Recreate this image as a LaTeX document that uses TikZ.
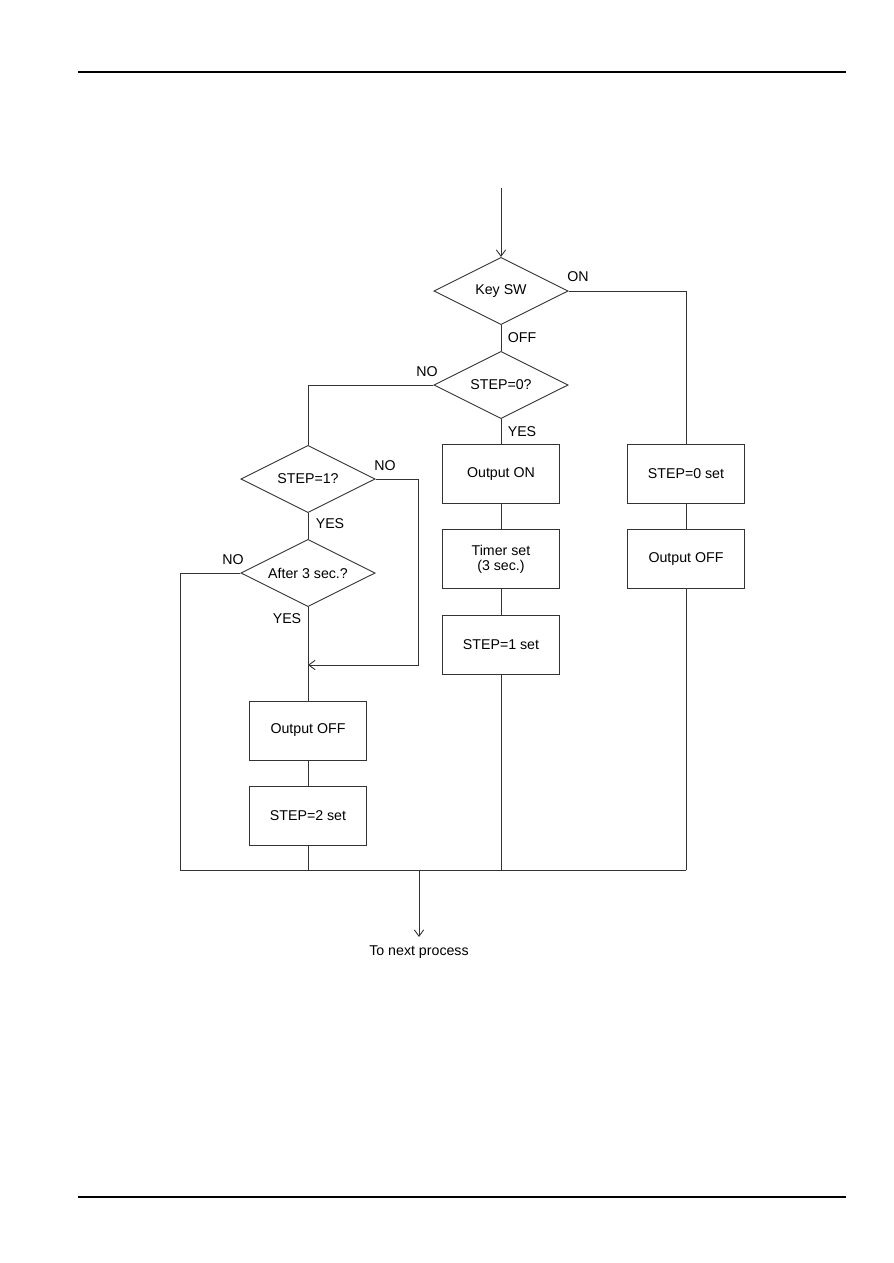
\documentclass[tikz,border=0pt]{standalone}
\usepackage{fontspec}
\setmainfont{Liberation Sans}
\usetikzlibrary{shapes.geometric,arrows.meta}

\tikzset{
  wire/.style={draw=black!80, line width=0.6pt},
  flowbox/.style={wire, rectangle, minimum width=27.5mm, minimum height=13.9mm, inner sep=0pt, align=center},
  decide/.style={wire, diamond, aspect=2, minimum width=31.6mm, minimum height=15.8mm, inner sep=0pt},
  branch/.style={inner sep=0pt},
}

\begin{document}
\begin{tikzpicture}[x=0.2352mm, y=-0.2352mm, >={Straight Barb[length=1.5mm,width=2.2mm]},
    font=\fontsize{9.5}{9.8}\selectfont]
  \useasboundingbox (0,0) rectangle (893,1263);
  % page rules
  \draw[line width=2pt] (78,72) -- (846,72);
  \draw[line width=1.4pt] (78,1197) -- (846,1197);

  % decisions
  \node[decide] (keysw) at (501,291) {Key SW};
  \node[decide] (step0) at (501,385) {STEP=0?};
  \node[decide] (step1) at (308,479) {STEP=1?};
  \node[decide] (after) at (308,573) {After 3 sec.?};

  % middle column
  \node[flowbox] (outon)    at (501,474) {Output ON};
  \node[flowbox] (timer)    at (501,559) {Timer set\\(3 sec.)};
  \node[flowbox] (step1set) at (501,645) {STEP=1 set};
  % right column
  \node[flowbox] (step0set) at (686,474) {STEP=0 set};
  \node[flowbox] (outoffr)  at (686,559) {Output OFF};
  % left column
  \node[flowbox] (outoffl)  at (308,730.5) {Output OFF};
  \node[flowbox] (step2set) at (308,815.5) {STEP=2 set};

  % free ends
  \coordinate (start)  at (501,188);
  \coordinate (loopc)  at (418,665);
  \coordinate (joinl)  at (308,665);
  \coordinate (leftc)  at (180,870);
  \coordinate (rightc) at (686,870);
  \coordinate (merge)  at (419,870);
  \node[anchor=north, inner xsep=1.5pt, inner ysep=5.5pt] (next) at (419,937) {To next process};

  % branch labels
  \node[branch] (lblon)   at (578,277) {ON};
  \node[branch] (lbloff)  at (522,338) {OFF};
  \node[branch] (lblno0)  at (427,372) {NO};
  \node[branch] (lblyes0) at (522,432) {YES};
  \node[branch] (lblno1)  at (385,466) {NO};
  \node[branch] (lblyes1) at (330,524) {YES};
  \node[branch] (lblno2)  at (233,560) {NO};
  \node[branch] (lblyes2) at (287,619) {YES};

  % connectors
  \draw[wire, ->] (start) -- (keysw.north);
  \draw[wire] (keysw.east) -| (step0set.north);
  \draw[wire] (keysw.south) -- (step0.north);
  \draw[wire] (step0.west) -| (step1.north);
  \draw[wire] (step0.south) -- (outon.north);
  \draw[wire] (outon) -- (timer);
  \draw[wire] (timer) -- (step1set);
  \draw[wire] (step0set) -- (outoffr);
  \draw[wire] (step1.south) -- (after.north);
  \draw[wire, ->] (step1.east) -| (loopc) -- (joinl);
  \draw[wire] (after.south) -- (outoffl.north);
  \draw[wire] (after.west) -| (leftc);
  \draw[wire] (outoffl) -- (step2set);
  \draw[wire] (leftc) -- (rightc);
  \draw[wire] (step2set.south) -- (step2set.south |- leftc);
  \draw[wire] (step1set.south) -- (step1set.south |- leftc);
  \draw[wire] (outoffr.south) -- (rightc);
  \draw[wire, ->] (merge) -- (next.north);
\end{tikzpicture}
\end{document}
